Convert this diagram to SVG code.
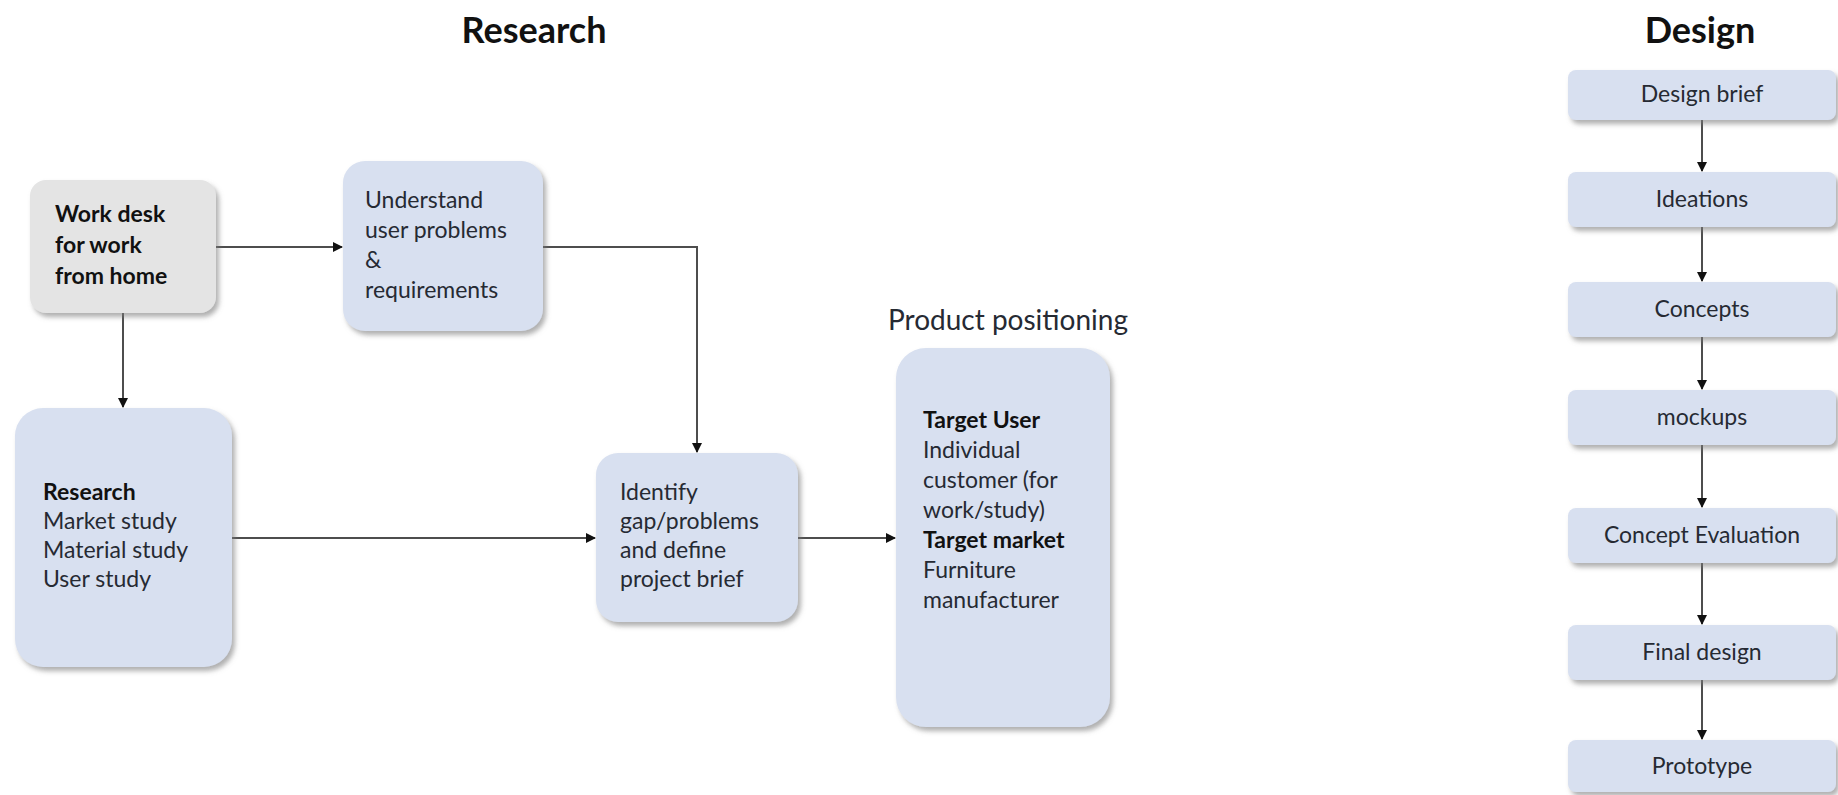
<svg xmlns="http://www.w3.org/2000/svg" width="1838" height="795" viewBox="0 0 1838 795">
<defs>
<filter id="sh" x="-10%" y="-10%" width="130%" height="130%">
<feDropShadow dx="3" dy="4" stdDeviation="2.5" flood-color="#7a7a7a" flood-opacity="0.6"/>
</filter>
<marker id="ah" viewBox="0 0 10 10" refX="9" refY="5" markerWidth="5" markerHeight="5" orient="auto" markerUnits="strokeWidth">
<path d="M0,0 L10,5 L0,10 z" fill="#111"/>
</marker>
</defs>
<style>
.box{fill:#d8e0f0;filter:url(#sh)}
.gray{fill:#e4e4e4;filter:url(#sh)}
.t{font-family:Lato,"Liberation Sans",sans-serif;font-size:23px;fill:#262a33}
.b{font-weight:bold;fill:#111}
.title{font-family:Lato,"Liberation Sans",sans-serif;font-size:36px;font-weight:bold;fill:#111;text-anchor:middle}
.c{text-anchor:middle}
.ln{fill:none;stroke:#4d4d4d;stroke-width:2;marker-end:url(#ah)}
</style>
<rect width="1838" height="795" fill="#fff"/>
<text class="title" x="534" y="43">Research</text>
<text class="title" x="1700" y="43">Design</text>
<text class="t" x="1008" y="330" text-anchor="middle" style="font-size:28px">Product positioning</text>

<g id="connectors">
<path class="ln" d="M216,247 H342"/>
<path class="ln" d="M543,247 H697 V452"/>
<path class="ln" d="M123,313 V407"/>
<path class="ln" d="M232,538 H595"/>
<path class="ln" d="M798,538 H895"/>
<path class="ln" d="M1702,120 V171"/>
<path class="ln" d="M1702,227 V281"/>
<path class="ln" d="M1702,337 V389"/>
<path class="ln" d="M1702,445 V507"/>
<path class="ln" d="M1702,563 V624"/>
<path class="ln" d="M1702,680 V739"/>
</g>

<g id="workdesk">
<rect class="gray" x="30" y="180" width="186" height="133" rx="16"/>
<text class="t b" x="55" y="222">Work desk</text>
<text class="t b" x="55" y="253">for work</text>
<text class="t b" x="55" y="284">from home</text>
</g>

<g id="understand">
<rect class="box" x="343" y="161" width="200" height="170" rx="22"/>
<text class="t" x="365" y="208">Understand</text>
<text class="t" x="365" y="238">user problems</text>
<text class="t" x="365" y="268">&amp;</text>
<text class="t" x="365" y="298">requirements</text>
</g>

<g id="research">
<rect class="box" x="15" y="408" width="217" height="259" rx="28"/>
<text class="t b" x="43" y="500">Research</text>
<text class="t" x="43" y="529">Market study</text>
<text class="t" x="43" y="558">Material study</text>
<text class="t" x="43" y="587">User study</text>
</g>

<g id="identify">
<rect class="box" x="596" y="453" width="202" height="169" rx="22"/>
<text class="t" x="620" y="500">Identify</text>
<text class="t" x="620" y="529">gap/problems</text>
<text class="t" x="620" y="558">and define</text>
<text class="t" x="620" y="587">project brief</text>
</g>

<g id="target">
<rect class="box" x="896" y="348" width="214" height="379" rx="30"/>
<text class="t b" x="923" y="428">Target User</text>
<text class="t" x="923" y="458">Individual</text>
<text class="t" x="923" y="488">customer (for</text>
<text class="t" x="923" y="518">work/study)</text>
<text class="t b" x="923" y="548">Target market</text>
<text class="t" x="923" y="578">Furniture</text>
<text class="t" x="923" y="608">manufacturer</text>
</g>

<g id="d1"><rect class="box" x="1568" y="70" width="268" height="50" rx="8"/><text class="t c" x="1702" y="102">Design brief</text></g>
<g id="d2"><rect class="box" x="1568" y="172" width="268" height="55" rx="8"/><text class="t c" x="1702" y="207">Ideations</text></g>
<g id="d3"><rect class="box" x="1568" y="282" width="268" height="55" rx="8"/><text class="t c" x="1702" y="317">Concepts</text></g>
<g id="d4"><rect class="box" x="1568" y="390" width="268" height="55" rx="8"/><text class="t c" x="1702" y="425">mockups</text></g>
<g id="d5"><rect class="box" x="1568" y="508" width="268" height="55" rx="8"/><text class="t c" x="1702" y="543">Concept Evaluation</text></g>
<g id="d6"><rect class="box" x="1568" y="625" width="268" height="55" rx="8"/><text class="t c" x="1702" y="660">Final design</text></g>
<g id="d7"><rect class="box" x="1568" y="740" width="268" height="52" rx="8"/><text class="t c" x="1702" y="774">Prototype</text></g>
</svg>
